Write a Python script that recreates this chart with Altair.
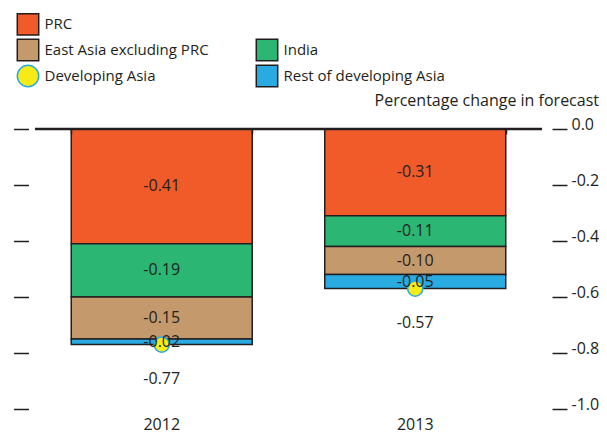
import altair as alt
import pandas as pd

years = ["2012", "2013"]
segments = ["PRC", "India", "East Asia excluding PRC", "Rest of developing Asia"]
values_2012 = [-0.41, -0.19, -0.15, -0.02]
values_2013 = [-0.31, -0.11, -0.10, -0.05]
totals = [-0.77, -0.57]
y_ticks = [0.0, -0.2, -0.4, -0.6, -0.8, -1.0]

seg_colors = ["#f15a29", "#2bb673", "#c49a6c", "#29abe2"]
dot_fill = "#f6eb16"
dot_stroke = "#29abe2"

# legend entries, listed column by column (column 2 starts with an empty slot)
legend_items = ["PRC", "East Asia excluding PRC", "Developing Asia", " ", "India", "Rest of developing Asia"]
legend_fill = ["#f15a29", "#c49a6c", "#f6eb16", "transparent", "#2bb673", "#29abe2"]
legend_stroke = ["#231f20", "#231f20", "#29abe2", "transparent", "#231f20", "#231f20"]
legend_shape = ["square", "square", "circle", "square", "square", "square"]

FONT = "Open Sans"
INK = "#231f20"

rows = []
for yr, vals in zip(years, [values_2012, values_2013]):
    for i, (seg, v) in enumerate(zip(segments, vals)):
        rows.append({"year": yr, "segment": seg, "value": v, "order": i})
bars_df = pd.DataFrame(rows)
totals_df = pd.DataFrame({"year": years, "total": totals})
zero_df = pd.DataFrame({"zero": [0.0]})
legend_df = pd.DataFrame({"series": legend_items})

x_scale = alt.Scale(domain=years, paddingInner=0.286, paddingOuter=0.143)
y_scale = alt.Scale(domain=[-1.0, 0.0], nice=False)

base = alt.Chart(bars_df).transform_stack(
    stack="value", groupby=["year"], as_=["y0", "y1"],
    sort=[alt.SortField("order", order="ascending")]
).transform_calculate(
    mid="(datum.y0 + datum.y1) / 2",
    label="'-' + format(abs(datum.value), '.2f')"
)

bars = base.mark_bar(stroke=INK, strokeWidth=1.5).encode(
    x=alt.X("year:N", scale=x_scale,
            axis=alt.Axis(orient="bottom", title=None, labelAngle=0, domain=False, ticks=False,
                          labelFontSize=16, labelPadding=7, labelColor=INK, labelFont=FONT)),
    y=alt.Y("y0:Q", scale=y_scale,
            axis=alt.Axis(orient="left", title=None, labels=False, domain=False, grid=False,
                          ticks=True, tickSize=15, tickWidth=1.5, tickColor=INK, offset=6.5,
                          values=y_ticks)),
    y2="y1:Q",
    fill=alt.Fill("segment:N", scale=alt.Scale(domain=segments, range=seg_colors), legend=None),
)

rule = alt.Chart(zero_df).mark_rule(color=INK, strokeWidth=2.5).encode(
    y=alt.Y("zero:Q", scale=y_scale, axis=None)
)

dots = alt.Chart(totals_df).mark_point(
    filled=True, size=230, color=dot_fill, stroke=dot_stroke, strokeWidth=1.5, opacity=1
).encode(
    x=alt.X("year:N", scale=x_scale,
            axis=alt.Axis(orient="top", title=None, labels=False, domain=False, ticks=True,
                          tickSize=5, tickWidth=1.5, tickColor=INK, offset=-5, tickBand="extent",
                          zindex=1)),
    y=alt.Y("total:Q", scale=y_scale,
            axis=alt.Axis(orient="right", title="Percentage change in forecast", titleAngle=0,
                          titleAlign="right", titleBaseline="alphabetic", titleX=46.5, titleY=-24,
                          titleFontSize=16, titleFontWeight="normal", titleFont=FONT, titleColor=INK,
                          labelExpr="datum.value == 0 ? '0.0' : '-' + format(abs(datum.value), '.1f')",
                          labelFontSize=16, labelFont=FONT, labelColor=INK, labelBaseline="alphabetic",
                          labelPadding=4, labelFlush=False, labelOverlap=False, domain=False, grid=False,
                          tickSize=15, tickWidth=1.5, tickColor=INK, offset=10, values=y_ticks)),
)

legend = alt.Legend(orient="none", legendX=-18.5, legendY=-116.5, columns=2, title=None,
                    symbolSize=460, symbolStrokeWidth=1.5, symbolOpacity=1,
                    labelFontSize=15, labelFont=FONT, labelColor=INK, labelOffset=5,
                    labelLimit=400, rowPadding=-4, columnPadding=43, padding=0)

# legend-only layer: its own marks are fully transparent, the legend shows the symbols
legend_layer = alt.Chart(legend_df).mark_point(
    filled=True, size=460, strokeWidth=1.5, opacity=0
).encode(
    color=alt.Color("series:N", scale=alt.Scale(domain=legend_items, range=legend_fill), legend=legend),
    stroke=alt.Stroke("series:N", scale=alt.Scale(domain=legend_items, range=legend_stroke), legend=legend),
    shape=alt.Shape("series:N", scale=alt.Scale(domain=legend_items, range=legend_shape), legend=legend),
)

seg_text = base.mark_text(font=FONT, fontSize=16, color=INK).encode(
    x=alt.X("year:N", scale=x_scale, axis=None),
    y=alt.Y("mid:Q", scale=y_scale, axis=None),
    text="label:N",
)

tot_text = alt.Chart(totals_df).transform_calculate(
    label="'-' + format(abs(datum.total), '.2f')"
).mark_text(font=FONT, fontSize=16, color=INK, dy=34).encode(
    x=alt.X("year:N", scale=x_scale, axis=None),
    y=alt.Y("total:Q", scale=y_scale, axis=None),
    text="label:N",
)

chart = alt.layer(bars, rule, dots, legend_layer, seg_text, tot_text).resolve_axis(
    x="independent", y="independent"
).properties(
    width=507, height=280,
    padding={"left": 4, "top": 4, "right": 0, "bottom": 6},
).configure_view(stroke=None)

chart.save("out.html", embed_options={"renderer": "svg", "actions": False})
